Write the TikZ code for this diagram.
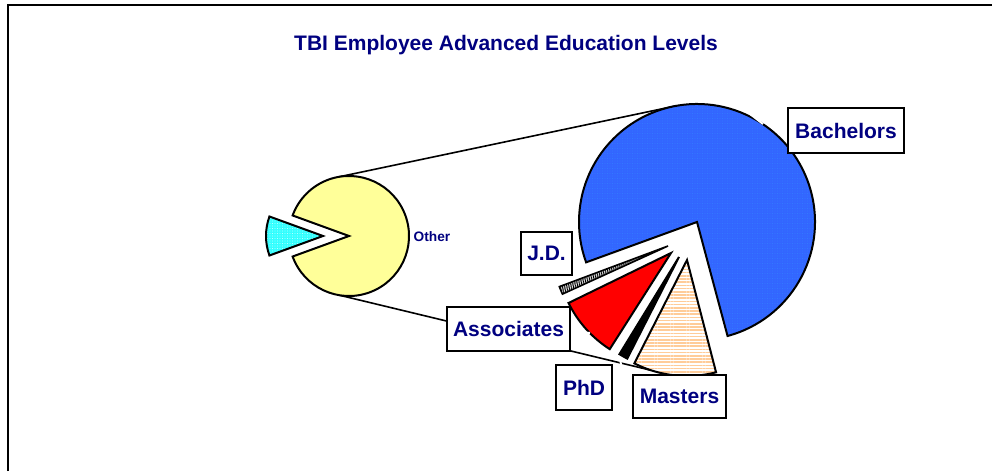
\documentclass[tikz,border=0pt]{standalone}
\usepackage{fontspec}
\setmainfont{Liberation Sans}
\usetikzlibrary{patterns.meta,calc}
\definecolor{navy}{RGB}{0,0,128}
\definecolor{bluepie}{RGB}{51,102,255}
\definecolor{yellowpie}{RGB}{255,255,153}
\definecolor{cyanpie}{RGB}{51,255,255}
\definecolor{peach}{RGB}{255,204,153}
\tikzset{
  slice/.style={draw=black, line width=2pt, line join=miter},
  lbl/.style={draw=black, line width=2pt, fill=white, inner sep=0pt,
    font=\bfseries\fontsize{21}{23}\selectfont, text=navy},
  conn/.style={draw=black, line width=1.6pt},
  leader/.style={draw=white, line width=2pt},
  titletext/.style={font=\bfseries\fontsize{21}{23}\selectfont, text=navy}
}
\begin{document}
\begin{tikzpicture}[x=1pt,y=1pt]
\useasboundingbox (0,0) rectangle (992,471);
\fill[white] (0,0) rectangle (992,471);
\draw[line width=2pt] (8,0) -- (8,466) -- (992,466);

% title
\node[titletext] (title) at (506,426) {TBI Employee Advanced Education Levels};

% key points
\coordinate (sc) at (349,235);   % small pie centre
\coordinate (bc) at (697,249);   % big pie centre
\coordinate (jda) at (668,225);
\coordinate (asa) at (671,218);
\coordinate (pha) at (679,214);
\coordinate (maa) at (687,211);
\coordinate (cya) at (323,235);

\coordinate (stop) at ($(sc)+(100:60)$);
\coordinate (sbot) at ($(sc)+(261:60)$);
\coordinate (btop) at ($(bc)+(100:118)$);
\coordinate (mbot) at ($(maa)+(252:116)$);

% connector lines (behind pies)
\draw[conn] (stop) -- (btop);
\draw[conn] (sbot) -- (mbot);

% small pie
\draw[slice, fill=yellowpie] (sc) -- ++(200:60) arc[start angle=200, end angle=520, radius=60] -- cycle;
\draw[slice, preaction={fill=cyanpie}, pattern={Dots[distance=2.5pt,radius=0.45pt]}, pattern color=white]
  (cya) -- ++(160:57) arc[start angle=160, end angle=200, radius=57] -- cycle;

% big pie
\draw[slice, preaction={fill=bluepie}, pattern={Dots[distance=2.5pt,radius=0.4pt]}, pattern color=blue!60!cyan!80]
  (bc) -- ++(285:118) arc[start angle=285, end angle=560, radius=118] -- cycle;
\draw[slice, line width=1.6pt, preaction={fill=gray!30}, pattern={Lines[angle=80,distance=1.8pt,line width=0.8pt]}, pattern color=black]
  (jda) -- ++(200.5:116) arc[start angle=200.5, end angle=204.5, radius=116] -- cycle;
\draw[slice, fill=red] (asa) -- ++(206:114) arc[start angle=206, end angle=237.5, radius=114] -- cycle;
\draw[slice, fill=black] (pha) -- ++(238.5:114) arc[start angle=238.5, end angle=243, radius=114] -- cycle;
\draw[slice, preaction={fill=white}, pattern={Lines[angle=0,distance=3.2pt,line width=1.6pt]}, pattern color=peach]
  (maa) -- ++(243:116) arc[start angle=243, end angle=284.5, radius=116] -- cycle;

% white leader marks
\draw[leader] (750,357) -- (763,347);
\draw[leader] (580,139) -- (590,138);
\draw[leader] (620,114) -- (621,106);

% labels
\node[lbl, minimum width=116pt, minimum height=45pt] (bach) at (846,340.5) {Bachelors};
\node[lbl, minimum width=51pt, minimum height=43pt] (jd) at (546.5,217.5) {J.D.};
\node[lbl, minimum width=123pt, minimum height=44pt] (assoc) at (508.5,142) {Associates};
\node[lbl, minimum width=56pt, minimum height=45pt] (phd) at (584,83.5) {PhD};
\node[lbl, minimum width=93pt, minimum height=43pt] (mast) at (679.5,74.5) {Masters};
\node[font=\bfseries\fontsize{13.7}{15}\selectfont, text=navy] (other) at (432,234) {Other};
\end{tikzpicture}
\end{document}
